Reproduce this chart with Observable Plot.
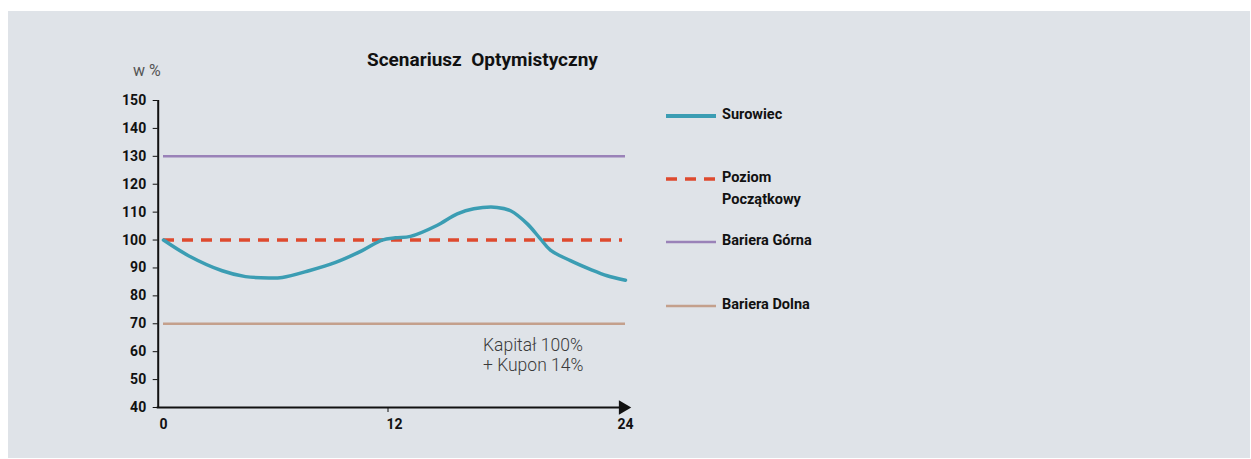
<!DOCTYPE html>
<html><head><meta charset="utf-8">
<script src="https://cdn.jsdelivr.net/npm/d3@7"></script>
<script src="https://cdn.jsdelivr.net/npm/@observablehq/plot@0.6"></script>
<style>
body{margin:0;background:#fff;font-family:Roboto,"Open Sans",sans-serif;}
#wrap{position:relative;width:1251px;height:459px;overflow:hidden;}
#panel{position:absolute;left:8px;top:11px;width:1242px;height:447px;background:#dfe3e8;}
#chart{position:absolute;left:0;top:0;}
.title{position:absolute;left:367px;top:48px;font-size:19px;font-weight:700;color:#111;white-space:pre;}
.unit{position:absolute;left:133px;top:61px;font-size:16px;color:#555;}
.note{position:absolute;left:483px;top:335px;font-size:17.5px;font-weight:300;color:#3a3a3a;line-height:20px;}
.leg{position:absolute;left:666px;font-size:14.5px;font-weight:700;color:#111;line-height:22px;}
.leg svg{position:absolute;left:0;}
.leg span{position:absolute;left:56px;white-space:pre;}
</style></head>
<body>
<div id="wrap">
  <div id="panel"></div>
  <div id="chart"></div>
  <div class="title">Scenariusz  Optymistyczny</div>
  <div class="unit">w %</div>
  <div class="note">Kapitał 100%<br>+ Kupon 14%</div>
</div>
<script>
// ---- data ----
const months   = [0, 1.3, 3.05, 4.26, 5.47, 6.17, 7.55, 8.94, 10.32, 11.36, 12.05, 12.83, 14.2, 15.26, 16.12, 17.33, 18.03, 18.9, 19.58, 20.1, 21.14, 22.2, 23.05, 24];
const surowiec = [100, 94.4, 89.0, 86.9, 86.4, 86.6, 89.0, 92.0, 96.2, 100, 100.8, 101.3, 105.2, 109.4, 111.2, 111.7, 110.5, 105.8, 100.4, 96.4, 92.6, 89.4, 87.2, 85.6];
const poziomPoczatkowy = 100;
const barieraGorna = 130;
const barieraDolna = 70;
const xTicks = [0, 12, 24];
const yTicks = [40, 50, 60, 70, 80, 90, 100, 110, 120, 130, 140, 150];
const legendNames  = ["Surowiec", "Poziom\nPoczątkowy", "Bariera Górna", "Bariera Dolna"];
const legendColors = ["#3b9db3", "#de4a2e", "#9a82b8", "#c4a08c"];

const series = months.map((m, i) => ({m, v: surowiec[i]}));

const chart = Plot.plot({
  width: 1251,
  height: 459,
  marginLeft: 163,
  marginRight: 626,
  marginTop: 100,
  marginBottom: 52,
  style: {background: "transparent", fontFamily: "Roboto, sans-serif", fontSize: "14px", fontWeight: "700", color: "#111"},
  x: {domain: [xTicks[0], xTicks[xTicks.length - 1]], label: null},
  y: {domain: [yTicks[0], yTicks[yTicks.length - 1]], label: null},
  marks: [
    Plot.ruleY([barieraGorna], {stroke: legendColors[2], strokeWidth: 2.5}),
    Plot.ruleY([barieraDolna], {stroke: legendColors[3], strokeWidth: 2.5}),
    Plot.ruleY([poziomPoczatkowy], {stroke: legendColors[1], strokeWidth: 3.5, strokeDasharray: "11,8", insetRight: 3}),
    Plot.line(series, {x: "m", y: "v", stroke: legendColors[0], strokeWidth: 3.5, curve: "catmull-rom"}),
    Plot.axisY({ticks: yTicks, tickSize: 5, tickPadding: 7, dx: -5.3, label: null}),
    Plot.axisX({ticks: xTicks, tickSize: 0, tickPadding: 12, label: null}),
    Plot.axisX({ticks: xTicks.slice(1, -1), tickSize: 5, tickFormat: () => "", dx: -6.5, label: null}),
    Plot.ruleX([xTicks[0]], {dx: -5.3, stroke: "#111", strokeWidth: 2}),
    Plot.ruleY([yTicks[0]], {stroke: "#111", strokeWidth: 2, insetLeft: -6.3, insetRight: 4}),
    Plot.dot([xTicks[xTicks.length - 1]], {x: d => d, frameAnchor: "bottom", symbol: "triangle", rotate: 90, r: 5.3, fill: "#111", stroke: null, dx: -2.5})
  ]
});
document.getElementById("chart").appendChild(chart);

// ---- legend ----
const legendTops = [104, 167, 230, 294];
const wrap = d3.select("#wrap");
legendNames.forEach((name, i) => {
  const g = wrap.append("div").attr("class", "leg").style("top", legendTops[i] + "px");
  const svg = g.append("svg").attr("width", 52).attr("height", 22).style("top", "0px");
  svg.append("line").attr("x1", 0).attr("x2", 50).attr("y1", 12).attr("y2", 12)
    .attr("stroke", legendColors[i])
    .attr("stroke-width", i === 0 ? 4 : (i === 1 ? 3.5 : 2.5))
    .attr("stroke-dasharray", i === 1 ? "11,8" : null);
  g.append("span").style("top", "0px").text(name);
});
</script>
</body></html>
